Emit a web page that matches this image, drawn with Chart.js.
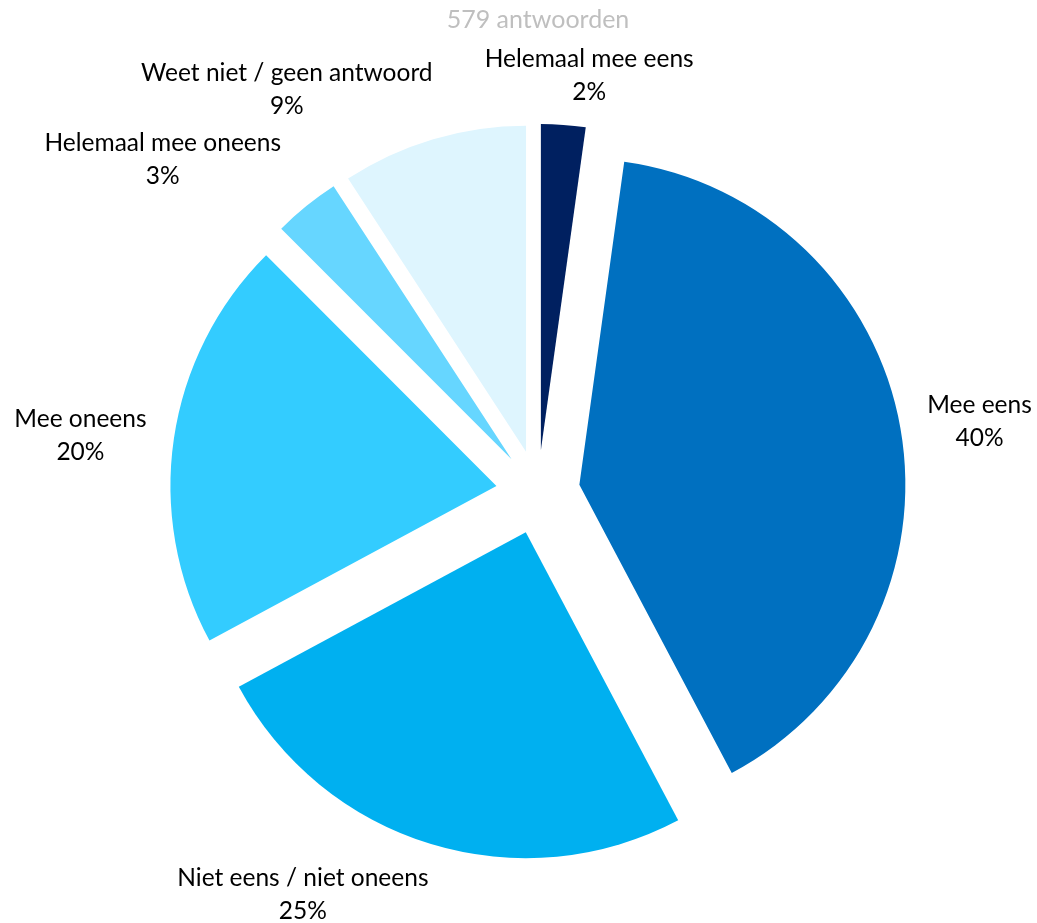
<!DOCTYPE html>
<html>
<head>
<meta charset="utf-8">
<script src="https://cdn.jsdelivr.net/npm/chart.js@4/dist/chart.umd.min.js"></script>
<style>
  html, body { margin: 0; padding: 0; background: #fff; }
  #wrap { width: 1037px; height: 923px; position: relative; }
</style>
</head>
<body>
<div id="wrap"><canvas id="myChart"></canvas></div>
<script>
const categories = ['Helemaal mee eens', 'Mee eens', 'Niet eens / niet oneens', 'Mee oneens', 'Helemaal mee oneens', 'Weet niet / geen antwoord']
const shares = [2.2, 40.1, 24.9, 20.4, 3.3, 9.2]
const sliceColors = ['#002060', '#0070C0', '#00B0F0', '#33CCFF', '#66D6FF', '#DEF5FE']
const titleText = '579 antwoorden'

// where each label sits: angle (deg, clockwise from 12 o'clock) and distance from the pie centre
const labelAngles = [7, 81, 210.3, 277, 311.5, 328]
const labelDist = [420, 447, 466, 461, 501, 474]

const explode = 42
const fontFamily = 'Lato, "Open Sans", sans-serif'

// draw each slice pulled out from the centre along its middle angle
const explodePlugin = {
  id: 'explode',
  beforeDatasetDraw(chart, args){
    const ctx = chart.ctx
    args.meta.data.forEach(arc => {
      const mid = (arc.startAngle + arc.endAngle) / 2
      ctx.save()
      ctx.translate(Math.cos(mid) * explode, Math.sin(mid) * explode)
      arc.draw(ctx)
      ctx.restore()
    })
    return false
  }
}

const labelPlugin = {
  id: 'sliceLabels',
  afterDatasetsDraw(chart){
    const ctx = chart.ctx
    const arcs = chart.getDatasetMeta(0).data
    const total = shares.reduce((a, b) => a + b, 0)
    ctx.save()
    ctx.font = '24.5px ' + fontFamily
    ctx.fillStyle = '#000'
    ctx.textAlign = 'center'
    ctx.textBaseline = 'middle'
    arcs.forEach((arc, i) => {
      const a = labelAngles[i] * Math.PI / 180
      const x = arc.x + Math.sin(a) * labelDist[i]
      const y = arc.y - Math.cos(a) * labelDist[i]
      ctx.fillText(categories[i], x, y - 16.5)
      ctx.fillText(Math.round(shares[i] / total * 100) + '%', x, y + 16.5)
    })
    ctx.restore()
  }
}

new Chart(document.getElementById('myChart'), {
  type: 'pie',
  data: {
    labels: categories,
    datasets: [{
      data: shares,
      backgroundColor: sliceColors,
      borderWidth: 0,
      radius: 326
    }]
  },
  options: {
    responsive: true,
    maintainAspectRatio: false,
    animation: false,
    layout: { padding: { left: 39 } },
    plugins: {
      legend: { display: false },
      tooltip: { enabled: false },
      title: {
        display: true,
        text: titleText,
        color: '#BFBFBF',
        font: { family: fontFamily, size: 25, weight: 'normal', lineHeight: 1.2 },
        padding: { top: 5, bottom: 26 }
      }
    }
  },
  plugins: [explodePlugin, labelPlugin]
})
</script>
</body>
</html>
